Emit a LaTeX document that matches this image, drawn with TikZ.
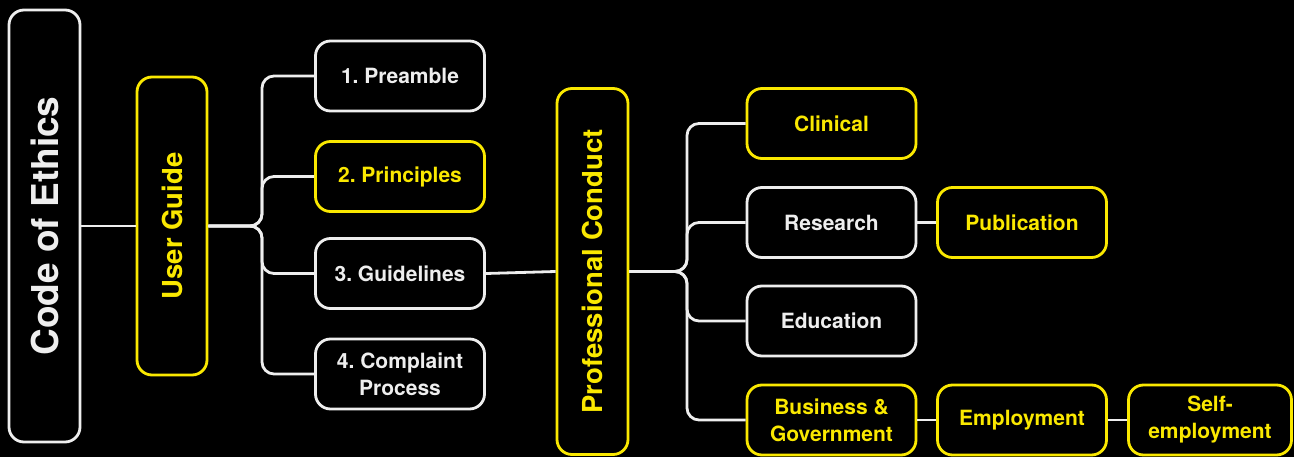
\documentclass[tikz,border=0pt]{standalone}
\usepackage{fontspec}
\setmainfont{TeX Gyre Heros}
\usepackage{graphicx}
\frenchspacing
\definecolor{ylw}{RGB}{250,232,0}
\definecolor{wht}{RGB}{238,238,238}
\begin{document}
\begin{tikzpicture}[x=1pt,y=-1pt,
 box/.style={draw=wht, line width=2.8pt, rounded corners=15pt, minimum width=169pt, minimum height=70pt, inner sep=0pt, text=wht, align=center, font=\bfseries\fontsize{21}{27}\selectfont\frenchspacing},
 ybox/.style={box, draw=ylw, text=ylw},
 conn/.style={draw=wht, line width=2.8pt, rounded corners=12pt},
]
\fill[black] (0,0) rectangle (1294,457);
\useasboundingbox (0,0) rectangle (1294,457);

\node[box, minimum width=71pt, minimum height=432pt, font=\bfseries\fontsize{37}{40}\selectfont] (coe) at (44.5,226) {\rotatebox{90}{Code of Ethics}};
\node[ybox, minimum width=70pt, minimum height=298pt, font=\bfseries\fontsize{27.5}{30}\selectfont] (ug) at (172,226) {\rotatebox{90}{User Guide}};

\node[box] (pre) at (400,76) {1. Preamble};
\node[ybox] (pri) at (400,176.5) {2. Principles};
\node[box] (gl) at (400,273.5) {3. Guidelines};
\node[box] (cp) at (400,374) {4. Complaint\\Process};

\node[ybox, minimum width=71pt, minimum height=366pt, font=\bfseries\fontsize{27.5}{30}\selectfont] (pc) at (592.5,271.5) {\rotatebox{90}{Professional Conduct}};

\node[ybox] (cl) at (831.5,123.5) {Clinical};
\node[box] (re) at (831.5,222.5) {Research};
\node[ybox] (pu) at (1022,222.5) {Publication};
\node[box] (ed) at (831.5,321) {Education};
\node[ybox] (bg) at (831.5,420) {Business \&\\Government};
\node[ybox] (em) at (1022,420) {Employment};
\node[ybox, minimum width=163pt] (se) at (1210,420) {Self-\\employment};

\coordinate (j1) at (262,226);
\coordinate (j2) at (687,271.5);

\draw[conn] (coe.east) -- (ug.west);
\foreach \c in {pre,pri,gl,cp} \draw[conn] (ug.east) -| (j1 |- \c.west) -- (\c.west);
\draw[conn] (gl.east) -- (pc.west);
\foreach \c in {cl,re,ed,bg} \draw[conn] (pc.east) -| (j2 |- \c.west) -- (\c.west);
\draw[conn] (re.east) -- (pu.west);
\draw[conn] (bg.east) -- (em.west);
\draw[conn] (em.east) -- (se.west);
\end{tikzpicture}
\end{document}
